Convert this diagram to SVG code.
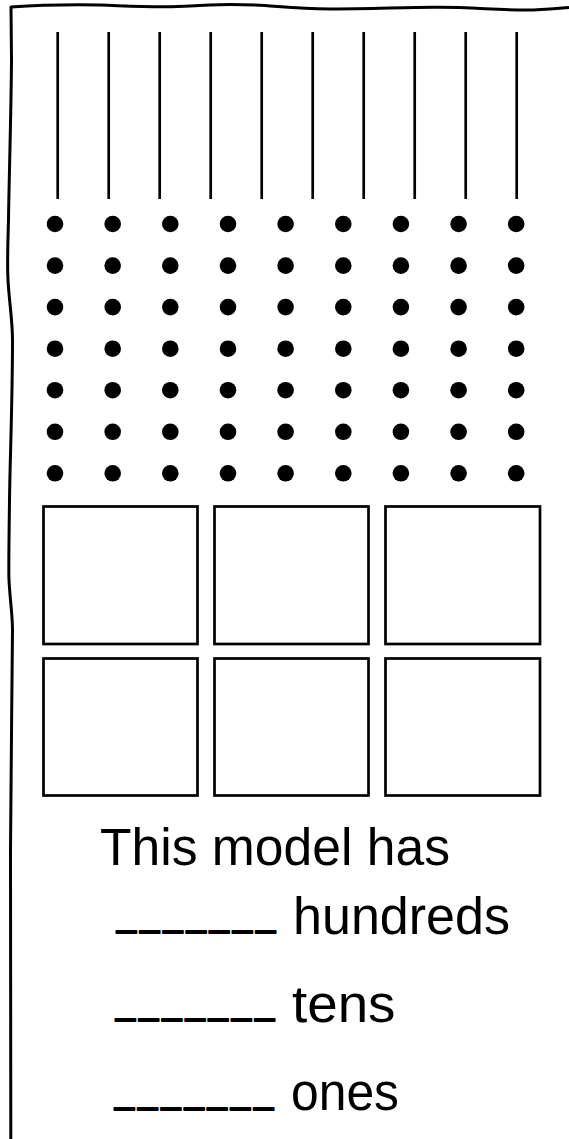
<svg xmlns="http://www.w3.org/2000/svg" width="569" height="1139" viewBox="0 0 569 1139">
<style>
.rod{stroke:#000;stroke-width:2.7;fill:none}
.box{stroke:#000;stroke-width:2.7;fill:#fff}
.txt{font-family:"Liberation Sans",Arial,sans-serif;font-size:51px;fill:#000}
.blank{font-family:"Liberation Sans",Arial,sans-serif;font-size:34px;fill:#000;stroke:#000;stroke-width:2;stroke-linejoin:round;letter-spacing:4.3px}
</style>
<rect width="569" height="1139" fill="#fff"/>
<g id="frame">
<path d="M10.8,1139 L10.5,850 C10.5,800 12,700 12.5,630 C12.5,615 10,600 9,580 C8.5,570 9,540 9.5,500 C10,460 12.5,400 12.5,340 C12.5,320 9,300 8,280 C7,260 8,240 8.5,220 C9,180 11,120 11.5,60 L11,7 C40,5 70,4.5 100,5 C130,6 160,8 190,6 C215,4 240,4 265,5.5 C285,7 300,9 330,9 C370,9 400,7.5 435,7.3 C470,7 495,10 526,10 C545,10 560,8 569,7.5" fill="none" stroke="#000" stroke-width="3" stroke-linejoin="round"/>
</g>
<g id="tens-rods">
<line class="rod" x1="57.7" y1="32" x2="57.7" y2="199"/>
<line class="rod" x1="108.7" y1="32" x2="108.7" y2="199"/>
<line class="rod" x1="159.7" y1="32" x2="159.7" y2="199"/>
<line class="rod" x1="210.7" y1="32" x2="210.7" y2="199"/>
<line class="rod" x1="261.7" y1="32" x2="261.7" y2="199"/>
<line class="rod" x1="312.7" y1="32" x2="312.7" y2="199"/>
<line class="rod" x1="363.7" y1="32" x2="363.7" y2="199"/>
<line class="rod" x1="414.7" y1="32" x2="414.7" y2="199"/>
<line class="rod" x1="465.7" y1="32" x2="465.7" y2="199"/>
<line class="rod" x1="516.7" y1="32" x2="516.7" y2="199"/>
</g>
<g id="ones-dots" fill="#000">
<g id="dot-row-1">
<circle cx="55" cy="224" r="8.3"/><circle cx="112.7" cy="224" r="8.3"/><circle cx="170.3" cy="224" r="8.3"/><circle cx="228" cy="224" r="8.3"/><circle cx="285.6" cy="224" r="8.3"/><circle cx="343.3" cy="224" r="8.3"/><circle cx="400.9" cy="224" r="8.3"/><circle cx="458.6" cy="224" r="8.3"/><circle cx="516.2" cy="224" r="8.3"/>
</g>
<g id="dot-row-2">
<circle cx="55" cy="265.6" r="8.3"/><circle cx="112.7" cy="265.6" r="8.3"/><circle cx="170.3" cy="265.6" r="8.3"/><circle cx="228" cy="265.6" r="8.3"/><circle cx="285.6" cy="265.6" r="8.3"/><circle cx="343.3" cy="265.6" r="8.3"/><circle cx="400.9" cy="265.6" r="8.3"/><circle cx="458.6" cy="265.6" r="8.3"/><circle cx="516.2" cy="265.6" r="8.3"/>
</g>
<g id="dot-row-3">
<circle cx="55" cy="307.1" r="8.3"/><circle cx="112.7" cy="307.1" r="8.3"/><circle cx="170.3" cy="307.1" r="8.3"/><circle cx="228" cy="307.1" r="8.3"/><circle cx="285.6" cy="307.1" r="8.3"/><circle cx="343.3" cy="307.1" r="8.3"/><circle cx="400.9" cy="307.1" r="8.3"/><circle cx="458.6" cy="307.1" r="8.3"/><circle cx="516.2" cy="307.1" r="8.3"/>
</g>
<g id="dot-row-4">
<circle cx="55" cy="348.7" r="8.3"/><circle cx="112.7" cy="348.7" r="8.3"/><circle cx="170.3" cy="348.7" r="8.3"/><circle cx="228" cy="348.7" r="8.3"/><circle cx="285.6" cy="348.7" r="8.3"/><circle cx="343.3" cy="348.7" r="8.3"/><circle cx="400.9" cy="348.7" r="8.3"/><circle cx="458.6" cy="348.7" r="8.3"/><circle cx="516.2" cy="348.7" r="8.3"/>
</g>
<g id="dot-row-5">
<circle cx="55" cy="390.2" r="8.3"/><circle cx="112.7" cy="390.2" r="8.3"/><circle cx="170.3" cy="390.2" r="8.3"/><circle cx="228" cy="390.2" r="8.3"/><circle cx="285.6" cy="390.2" r="8.3"/><circle cx="343.3" cy="390.2" r="8.3"/><circle cx="400.9" cy="390.2" r="8.3"/><circle cx="458.6" cy="390.2" r="8.3"/><circle cx="516.2" cy="390.2" r="8.3"/>
</g>
<g id="dot-row-6">
<circle cx="55" cy="431.8" r="8.3"/><circle cx="112.7" cy="431.8" r="8.3"/><circle cx="170.3" cy="431.8" r="8.3"/><circle cx="228" cy="431.8" r="8.3"/><circle cx="285.6" cy="431.8" r="8.3"/><circle cx="343.3" cy="431.8" r="8.3"/><circle cx="400.9" cy="431.8" r="8.3"/><circle cx="458.6" cy="431.8" r="8.3"/><circle cx="516.2" cy="431.8" r="8.3"/>
</g>
<g id="dot-row-7">
<circle cx="55" cy="473.3" r="8.3"/><circle cx="112.7" cy="473.3" r="8.3"/><circle cx="170.3" cy="473.3" r="8.3"/><circle cx="228" cy="473.3" r="8.3"/><circle cx="285.6" cy="473.3" r="8.3"/><circle cx="343.3" cy="473.3" r="8.3"/><circle cx="400.9" cy="473.3" r="8.3"/><circle cx="458.6" cy="473.3" r="8.3"/><circle cx="516.2" cy="473.3" r="8.3"/>
</g>
</g>
<g id="hundreds-squares">
<rect id="sq-1" class="box" x="43.5" y="506.5" width="154" height="137.5"/>
<rect id="sq-2" class="box" x="214.5" y="506.5" width="154" height="137.5"/>
<rect id="sq-3" class="box" x="385.5" y="506.5" width="154.5" height="137.5"/>
<rect id="sq-4" class="box" x="43.5" y="658.5" width="154" height="137"/>
<rect id="sq-5" class="box" x="214.5" y="658.5" width="154" height="137"/>
<rect id="sq-6" class="box" x="385.5" y="658.5" width="154.5" height="137"/>
</g>
<g id="caption">
<text class="txt" x="100" y="865" textLength="350" lengthAdjust="spacingAndGlyphs">This model has</text>
</g>
<g id="line-hundreds">
<text class="blank" x="117" y="926">_______</text>
<text class="txt" x="293" y="934" textLength="217" lengthAdjust="spacingAndGlyphs">hundreds</text>
</g>
<g id="line-tens">
<text class="blank" x="116" y="1013.5">_______</text>
<text class="txt" x="292" y="1021.5" textLength="103.5" lengthAdjust="spacingAndGlyphs">tens</text>
</g>
<g id="line-ones">
<text class="blank" x="115" y="1102.5">_______</text>
<text class="txt" x="291" y="1110" textLength="108" lengthAdjust="spacingAndGlyphs">ones</text>
</g>
</svg>
